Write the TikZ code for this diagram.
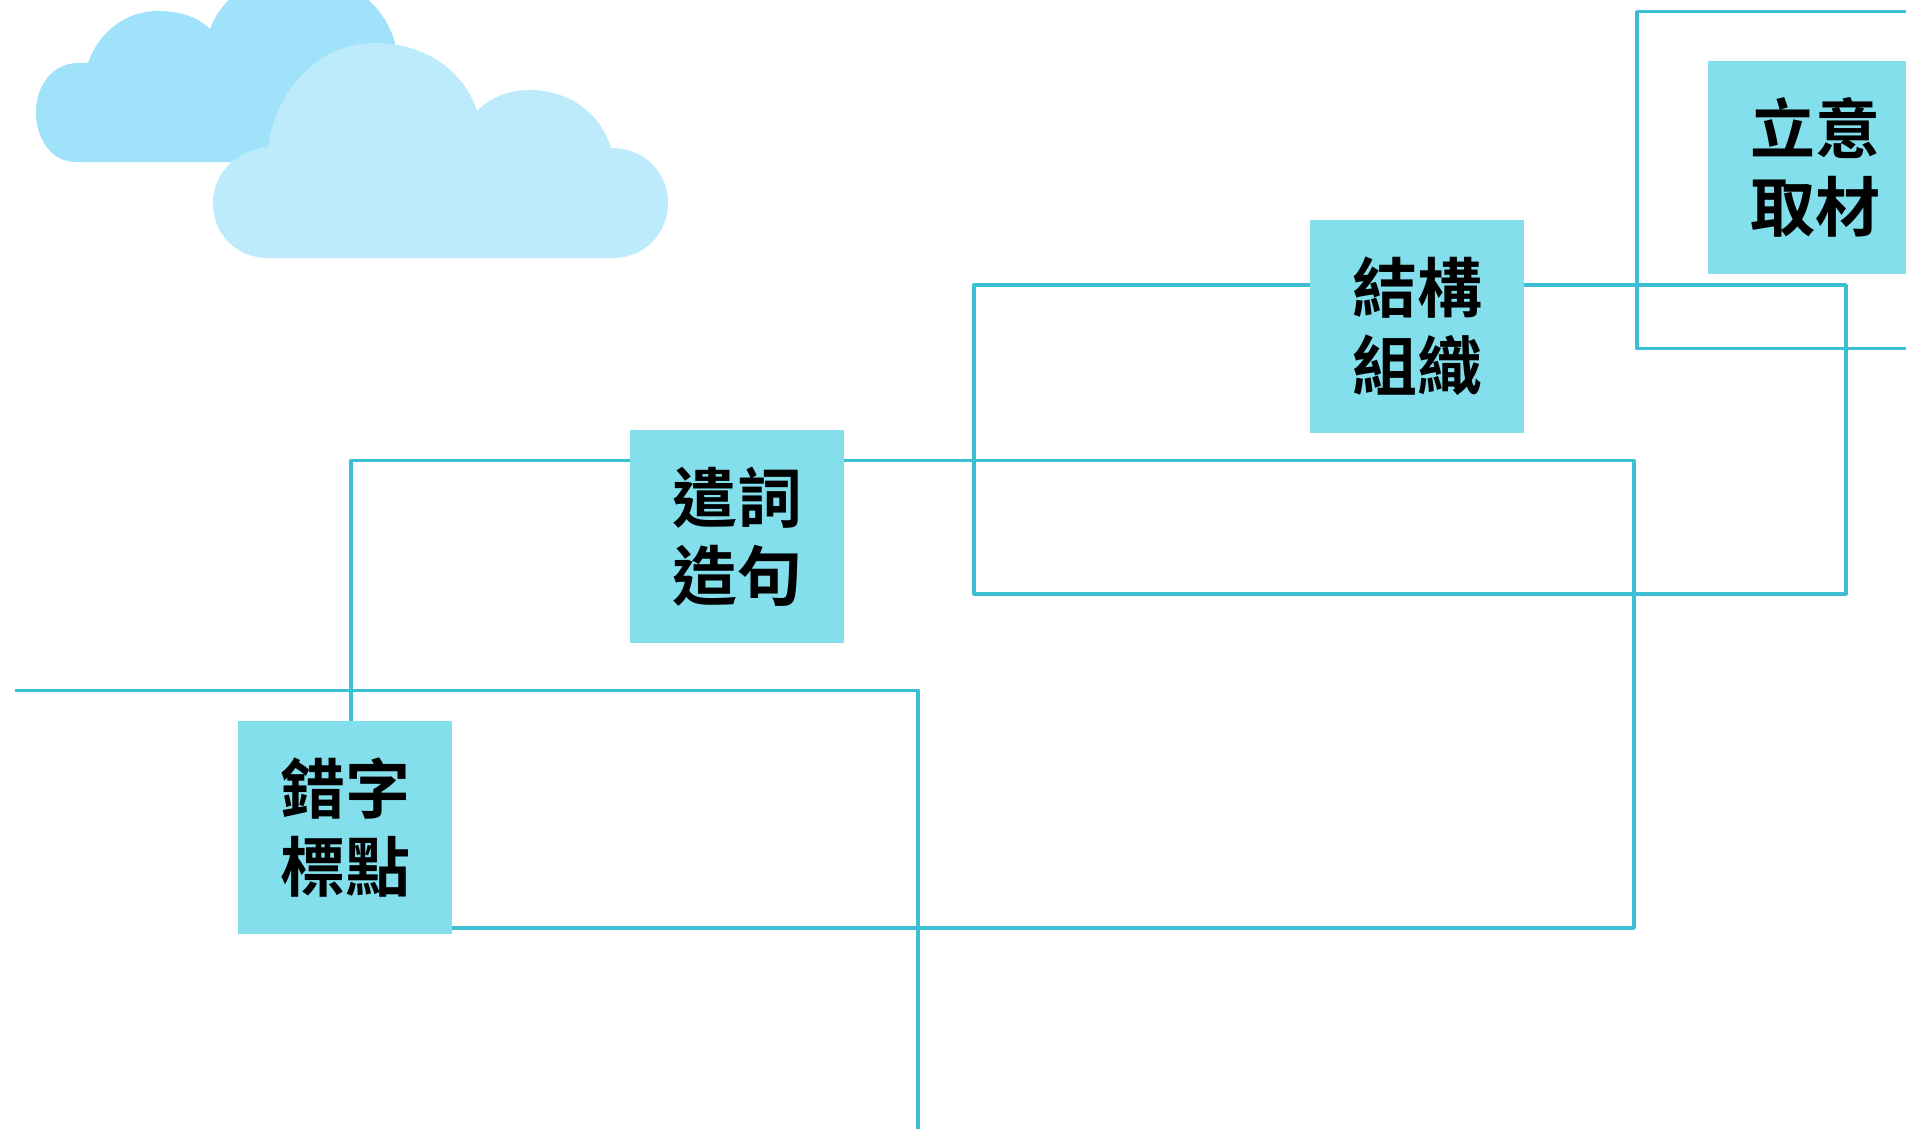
\documentclass[tikz,border=0pt]{standalone}
\usepackage{fontspec}
\newfontfamily\cjkbold[Scale=1]{Noto Sans CJK TC Bold}
\definecolor{boxfill}{HTML}{83DFEC}
\definecolor{linkcol}{HTML}{3CBFD2}
\definecolor{cloudback}{HTML}{A0E2F9}
\definecolor{cloudfront}{HTML}{BEEBFB}
\tikzset{
  topic/.style={rectangle,fill=boxfill,minimum width=214.5pt,minimum height=213pt,inner sep=0pt,align=center,
    font=\cjkbold\fontsize{65}{78}\selectfont,text=black},
  link/.style={draw=linkcol,line width=3.4pt,line join=round}
}
\begin{document}
\begin{tikzpicture}[x=1pt,y=-1pt]
\clip (0,0) rectangle (1906,1129);
\useasboundingbox (0,0) rectangle (1906,1129);
\fill[white] (0,0) rectangle (1906,1129);
% clouds
\fill[cloudback] (76,162) .. controls (52,162) and (36,140) .. (36,112)
  .. controls (36,84) and (54,63) .. (78,63) -- (88,63)
  .. controls (98,34) and (124,11) .. (158,11)
  .. controls (180,11) and (198,17) .. (210,29)
  .. controls (224,-8) and (258,-24) .. (300,-24)
  .. controls (350,-24) and (384,4) .. (395,43)
  -- (400,162) -- cycle;
\fill[cloudfront] (268,258) .. controls (236,258) and (213,234) .. (213,203)
  .. controls (213,172) and (238,150) .. (268,147)
  .. controls (276,90) and (318,43) .. (375,43)
  .. controls (424,43) and (464,70) .. (477,111)
  .. controls (490,98) and (508,90) .. (529,90)
  .. controls (568,90) and (600,112) .. (611,148)
  .. controls (644,148) and (668,172) .. (668,203)
  .. controls (668,234) and (644,258) .. (613,258) -- cycle;
% free ends and bends
\coordinate (outerA) at (1930,11.7);
\coordinate (outerB) at (1637,11.7);
\coordinate (outerC) at (1637,348.5);
\coordinate (outerD) at (1930,348.5);
\coordinate (jgR) at (1846,285);
\coordinate (jgRB) at (1846,593.8);
\coordinate (jgLB) at (974,593.8);
\coordinate (jgL) at (974,285);
\coordinate (qcL) at (351,460.6);
\coordinate (qcR) at (1634,460.6);
\coordinate (qcRB) at (1634,928);
\coordinate (tlA) at (14.6,690.6);
\coordinate (tlB) at (918,690.6);
\coordinate (tlC) at (918,1135);
% nodes
\node[topic] (liyi) at (1815.5,167.5) {立意\\取材};
\node[topic] (jiegou) at (1417,326) {結構\\組織};
\node[topic] (qianci) at (737,536.7) {遣詞\\造句};
\node[topic] (cuozi) at (345,827.5) {錯字\\標點};
% connectors
\draw[link] (outerA) -- (outerB) -- (outerC) -- (outerD);
\draw[link] (jiegou.east |- jgR) -- (jgR) -- (jgRB) -- (jgLB) -- (jgL) -- (jiegou.west |- jgL);
\draw[link] (qianci.west |- qcL) -- (qcL) -- (qcL |- cuozi.north);
\draw[link] (qianci.east |- qcR) -- (qcR) -- (qcRB) -- (cuozi.east |- qcRB);
\draw[link] (tlA) -- (tlB) -- (tlC);
\end{tikzpicture}
\end{document}
